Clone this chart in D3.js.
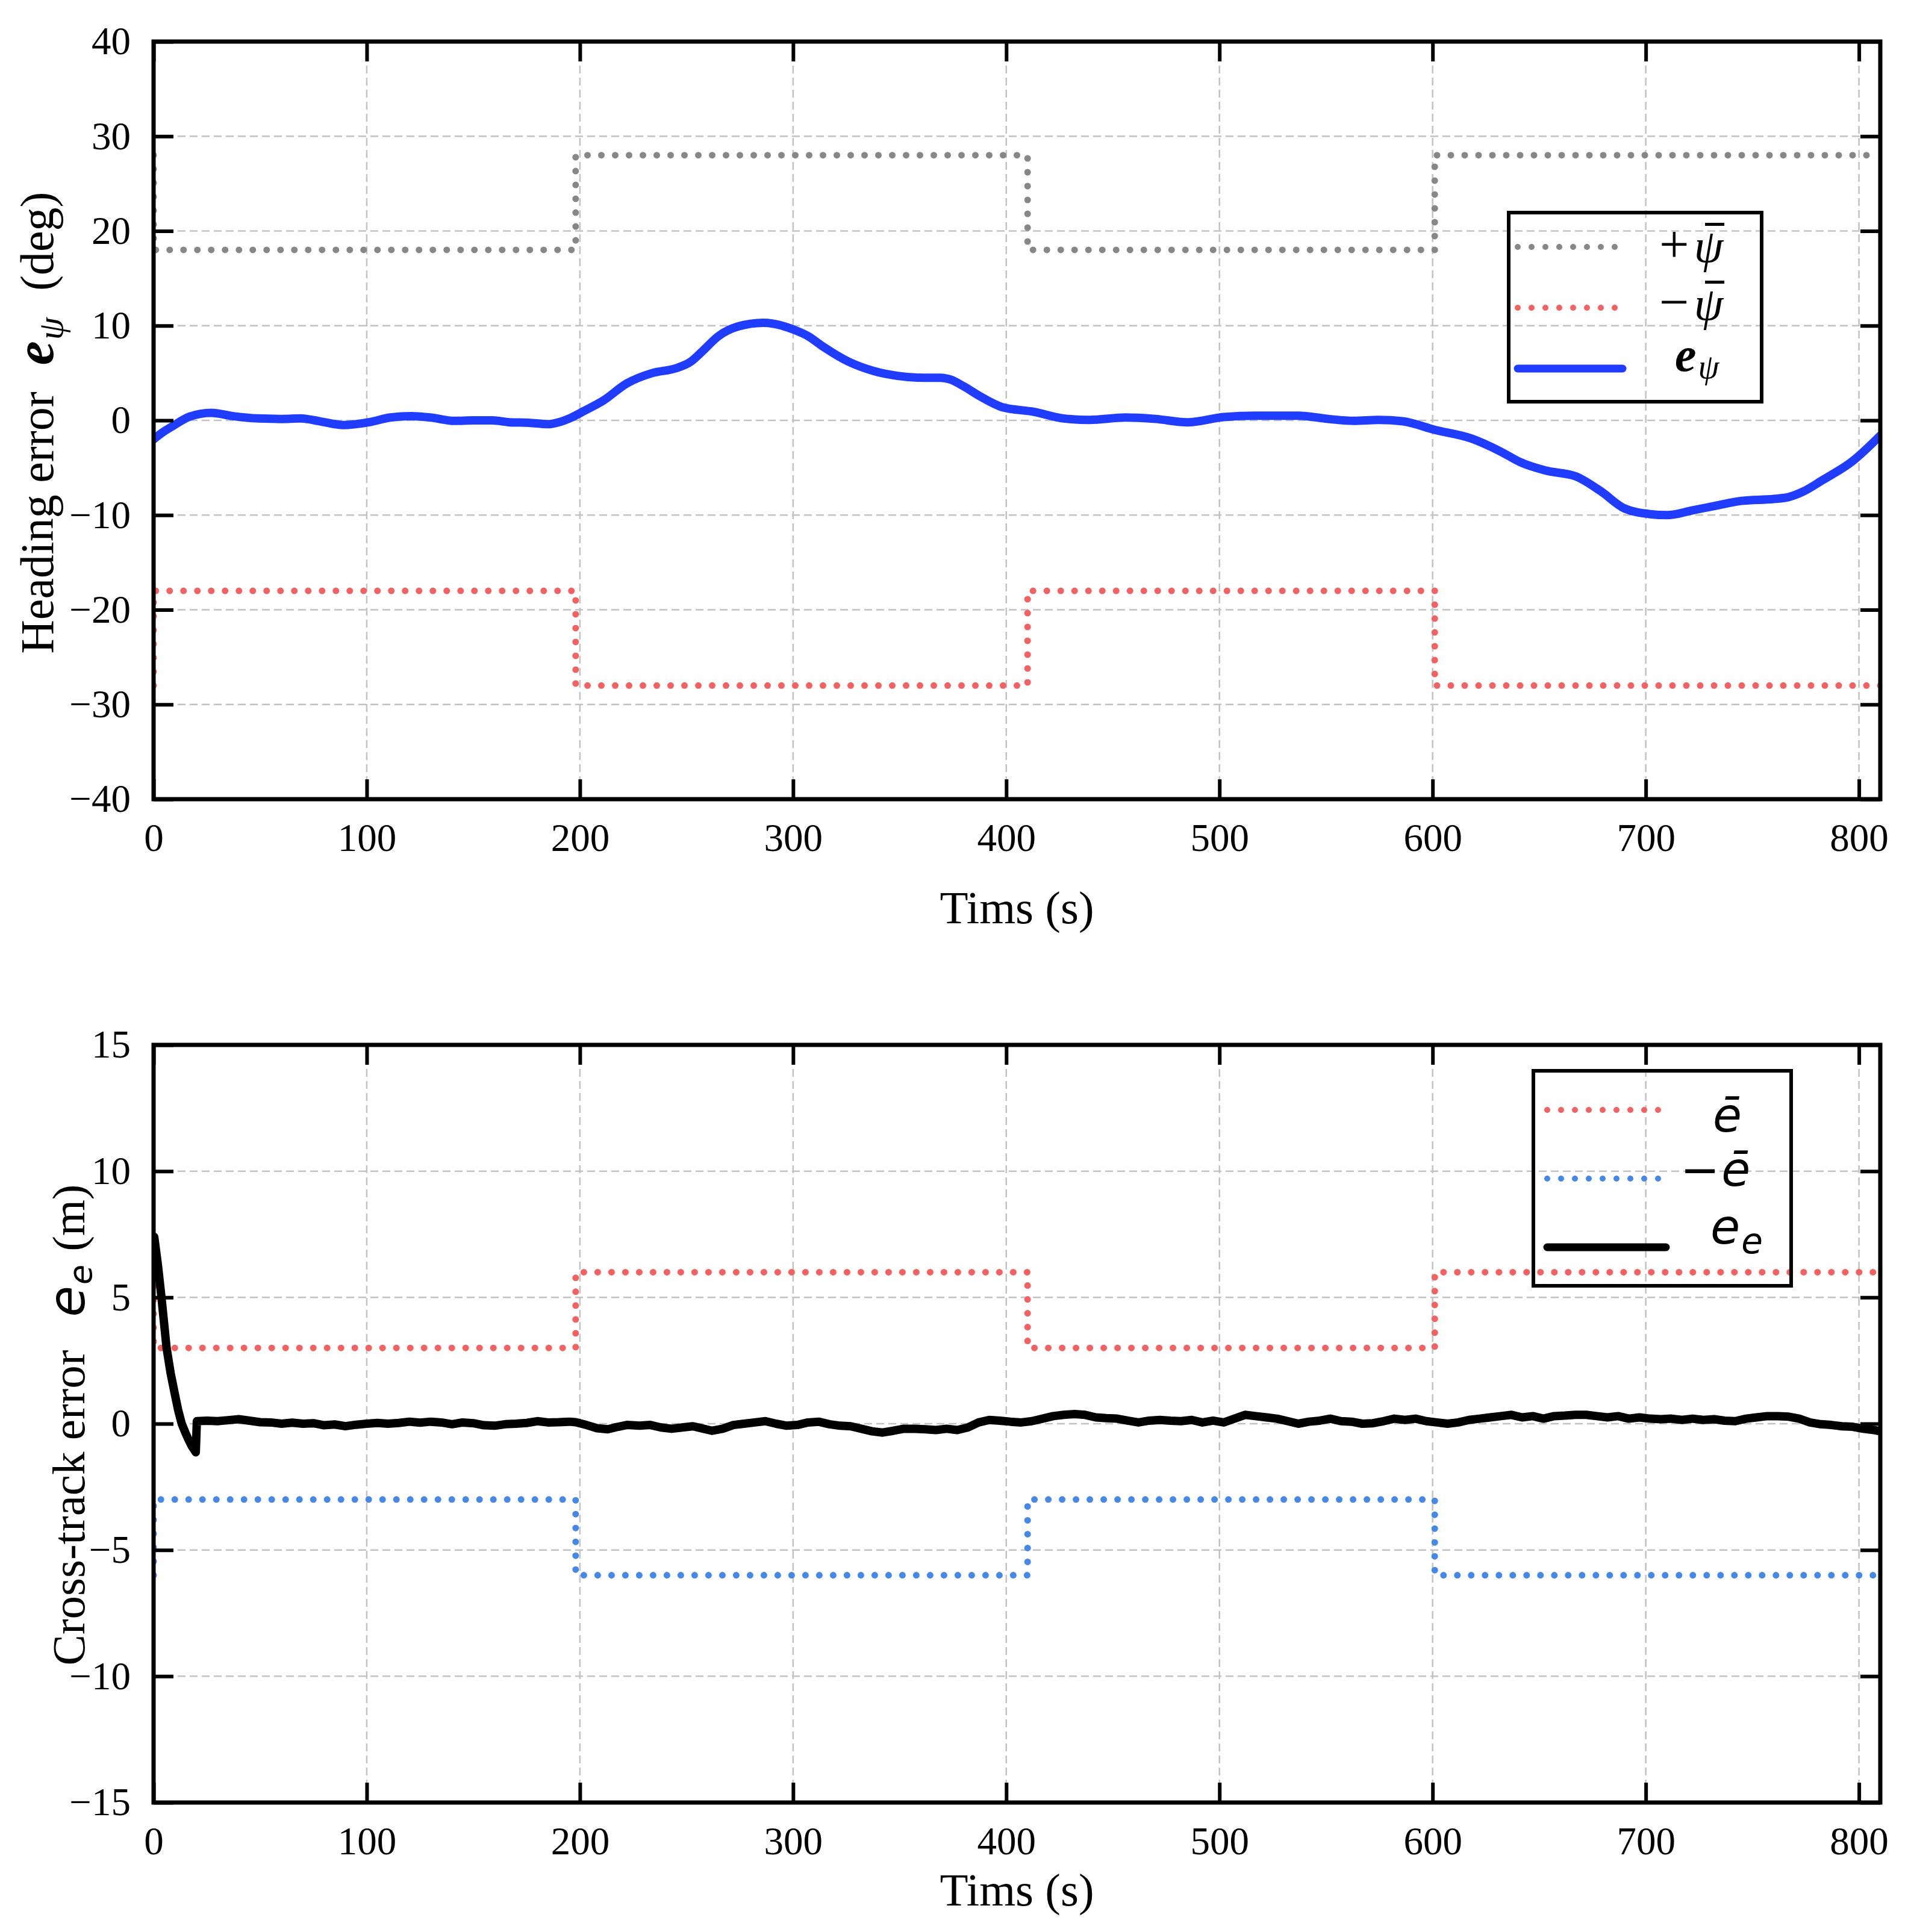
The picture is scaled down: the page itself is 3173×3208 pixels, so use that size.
<!DOCTYPE html>
<html>
<head>
<meta charset="utf-8">
<script src="https://cdn.jsdelivr.net/npm/d3@7"></script>
<style>
  body { margin: 0; background: #fff; }
  svg { display: block; }
</style>
</head>
<body>
<svg id="chart"></svg>
<script>
// ---- data ----
const xTicks = [0, 100, 200, 300, 400, 500, 600, 700, 800];
const psiTicks = [-40, -30, -20, -10, 0, 10, 20, 30, 40];
const eTicks = [-15, -10, -5, 0, 5, 10, 15];

// step bounds (same switching times for both panels)
const boundT = [0, 0, 198, 198, 410, 410, 601, 601, 810];
const psiBound = [28, 18, 18, 28, 28, 18, 18, 28, 28];
const eBound = [6, 3, 3, 6, 6, 3, 3, 6, 6];

// heading error e_psi (deg)
const psiT = [0, 4, 9, 17, 27, 37, 49, 60, 69, 78, 89, 101, 111, 121, 130, 141, 150, 159, 167, 176,
  185, 190, 196, 202, 211, 222, 234, 245, 252, 257, 265, 274, 286, 293, 300, 307, 314, 326, 338, 349,
  361, 369, 374, 380, 388, 398, 413, 427, 439, 456, 470, 485, 502, 517, 537, 551, 563, 575, 586, 601,
  618, 632, 641, 653, 667, 679, 690, 702, 710, 722, 733, 745, 760, 767, 774, 783, 797, 810];
const psiV = [-2.0, -1.3, -0.6, 0.4, 0.8, 0.45, 0.2, 0.15, 0.2, -0.1, -0.5, -0.2, 0.3, 0.45, 0.3, -0.05, 0.0, 0.0, -0.2, -0.25,
  -0.4, -0.2, 0.3, 1.0, 2.1, 3.9, 5.0, 5.5, 6.2, 7.2, 8.9, 9.9, 10.3, 10.1, 9.6, 8.9, 7.8, 6.2, 5.2, 4.7,
  4.5, 4.5, 4.3, 3.6, 2.5, 1.4, 0.9, 0.2, 0.05, 0.3, 0.15, -0.2, 0.35, 0.5, 0.5, 0.15, -0.05, 0.05, -0.1, -1.0,
  -1.9, -3.3, -4.4, -5.3, -5.9, -7.5, -9.3, -9.9, -10.0, -9.5, -9.0, -8.5, -8.3, -8.1, -7.5, -6.3, -4.3, -1.6];

// cross-track error e_e (m)
const eeT = [0.3, 2, 3.7, 6.1, 8, 9.9, 11.5, 13.2, 15, 16.5, 18, 19.8, 20.3, 25, 30, 35, 40, 45, 50, 55,
  60, 65, 70, 75, 80, 85, 90, 95, 100, 105, 110, 115, 120, 125, 130, 135, 140, 145, 150, 155,
  160, 165, 170, 175, 180, 185, 190, 195, 198, 203, 208, 213, 218, 222, 228, 233, 238, 243, 248, 253,
  258, 262, 267, 272, 277, 282, 287, 292, 297, 302, 307, 312, 317, 322, 327, 332, 337, 342, 347, 352,
  357, 362, 367, 372, 377, 382, 387, 392, 397, 402, 407, 412, 417, 422, 427, 432, 437, 442, 447, 452,
  457, 462, 467, 472, 477, 482, 487, 492, 497, 502, 507, 512, 517, 522, 527, 532, 537, 542, 547, 552,
  557, 562, 567, 572, 577, 582, 587, 592, 597, 602, 607, 612, 617, 622, 627, 632, 637, 642, 647, 652,
  657, 662, 667, 672, 677, 682, 687, 692, 697, 702, 707, 712, 717, 722, 727, 732, 737, 742, 747, 752,
  757, 762, 767, 772, 777, 782, 787, 792, 797, 802, 807, 810];
const eeV = [7.4, 6.3, 5.0, 3.0, 2.0, 1.2, 0.55, 0.0, -0.37, -0.65, -0.9, -1.13, 0.1, 0.12, 0.1, 0.14, 0.18, 0.12, 0.06, 0.05,
  0.0, 0.04, 0.0, 0.02, -0.06, -0.03, -0.1, -0.04, 0.0, 0.03, 0.0, 0.03, 0.08, 0.04, 0.08, 0.05, -0.02, 0.05, 0.02, -0.06,
  -0.08, -0.02, 0.0, 0.03, 0.1, 0.05, 0.06, 0.08, 0.06, -0.05, -0.18, -0.22, -0.12, -0.05, -0.08, -0.05, -0.15, -0.2, -0.15, -0.1,
  -0.2, -0.28, -0.2, -0.05, 0.0, 0.05, 0.1, 0.0, -0.08, -0.05, 0.05, 0.08, -0.02, -0.08, -0.1, -0.2, -0.3, -0.35, -0.28, -0.2,
  -0.2, -0.22, -0.25, -0.2, -0.25, -0.15, 0.05, 0.15, 0.12, 0.08, 0.05, 0.1, 0.2, 0.3, 0.35, 0.38, 0.35, 0.25, 0.22, 0.2,
  0.12, 0.05, 0.12, 0.15, 0.12, 0.1, 0.15, 0.05, 0.12, 0.05, 0.2, 0.35, 0.3, 0.25, 0.2, 0.1, 0.0, 0.08, 0.12, 0.2,
  0.1, 0.08, 0.0, 0.02, 0.1, 0.2, 0.15, 0.2, 0.1, 0.05, 0.0, 0.05, 0.15, 0.2, 0.25, 0.3, 0.35, 0.25, 0.3, 0.2,
  0.3, 0.32, 0.35, 0.35, 0.3, 0.25, 0.3, 0.2, 0.25, 0.2, 0.18, 0.2, 0.15, 0.2, 0.15, 0.18, 0.12, 0.1, 0.2, 0.25,
  0.3, 0.3, 0.28, 0.2, 0.05, -0.02, -0.05, -0.1, -0.12, -0.2, -0.25, -0.3];

// ---- layout ----
const W = 3173, H = 3208;
const L = 255, R = 3122;
const serif = "'Liberation Serif', 'Times New Roman', serif";
const sans = "'DejaVu Sans', sans-serif";
const dotted = "0 23";

const svg = d3.select("#chart")
  .attr("width", W).attr("height", H)
  .attr("viewBox", `0 0 ${W} ${H}`);
svg.append("rect").attr("width", W).attr("height", H).attr("fill", "#fff");

const x = d3.scaleLinear().domain([0, 810]).range([L, R]);

const panels = [
  {
    id: "psi", top: 69, bottom: 1327, domain: [-40, 40], ticks: psiTicks,
    series: [
      { t: boundT, v: psiBound, color: "#878787", width: 11, dash: dotted },
      { t: boundT, v: psiBound.map(d => -d), color: "#f26262", width: 11, dash: dotted },
      { t: psiT, v: psiV, color: "#203cff", width: 14, curve: d3.curveMonotoneX }
    ],
    xTitleY: 1533,
    legend: { x: 2505, y: 353, w: 420, h: 314, x0: 8, x1: 196, rows: [57, 158, 259] }
  },
  {
    id: "ee", top: 1735, bottom: 2993, domain: [-15, 15], ticks: eTicks,
    series: [
      { t: boundT, v: eBound, color: "#f26262", width: 11, dash: dotted },
      { t: boundT, v: eBound.map(d => -d), color: "#4688e6", width: 11, dash: dotted },
      { t: eeT, v: eeV, color: "#000", width: 14 }
    ],
    xTitleY: 3164,
    legend: { x: 2546, y: 1778, w: 428, h: 357, x0: 16, x1: 227, rows: [65, 179, 293] }
  }
];

panels.forEach(p => {
  const y = d3.scaleLinear().domain(p.domain).range([p.bottom, p.top]);
  const g = svg.append("g").attr("class", "panel-" + p.id);

  svg.append("clipPath").attr("id", "clip-" + p.id)
    .append("rect").attr("x", L).attr("y", p.top)
    .attr("width", R - L).attr("height", p.bottom - p.top);

  // grid
  const grid = g.append("g").attr("stroke", "#c2c2c2").attr("stroke-width", 2.5)
    .attr("stroke-dasharray", "13 7");
  grid.selectAll("line.vx").data(xTicks.filter(d => d > 0)).join("line")
    .attr("class", "vx")
    .attr("x1", d => x(d)).attr("x2", d => x(d))
    .attr("y1", p.top).attr("y2", p.bottom);
  grid.selectAll("line.hy").data(p.ticks.slice(1, -1)).join("line")
    .attr("class", "hy")
    .attr("x1", L).attr("x2", R)
    .attr("y1", d => y(d)).attr("y2", d => y(d));

  // series
  const plot = g.append("g").attr("clip-path", `url(#clip-${p.id})`);
  p.series.forEach(s => {
    const line = d3.line()
      .x(d => x(d[0])).y(d => y(d[1]))
      .curve(s.curve || d3.curveLinear);
    plot.append("path")
      .attr("d", line(s.t.map((t, i) => [t, s.v[i]])))
      .attr("fill", "none")
      .attr("stroke", s.color)
      .attr("stroke-width", s.width)
      .attr("stroke-dasharray", s.dash || null)
      .attr("stroke-linecap", "round")
      .attr("stroke-linejoin", "round");
  });

  // axes (inward ticks on all four sides)
  const styleAxis = (sel, labels) => {
    sel.select(".domain").remove();
    sel.selectAll(".tick line").attr("stroke", "#000").attr("stroke-width", 6);
    sel.attr("font-family", serif).attr("font-size", 65);
    if (!labels) sel.selectAll(".tick text").remove();
    sel.selectAll(".tick text").attr("fill", "#000");
  };
  g.append("g").attr("transform", `translate(0,${p.bottom})`)
    .call(d3.axisBottom(x).tickValues(xTicks).tickSizeInner(-33).tickSizeOuter(0).tickPadding(40))
    .call(s => styleAxis(s, true));
  g.append("g").attr("transform", `translate(0,${p.top})`)
    .call(d3.axisTop(x).tickValues(xTicks).tickSizeInner(-33).tickSizeOuter(0))
    .call(s => styleAxis(s, false));
  g.append("g").attr("transform", `translate(${L},0)`)
    .call(d3.axisLeft(y).tickValues(p.ticks).tickSizeInner(-33).tickSizeOuter(0).tickPadding(38))
    .call(s => styleAxis(s, true));
  g.append("g").attr("transform", `translate(${R},0)`)
    .call(d3.axisRight(y).tickValues(p.ticks).tickSizeInner(-33).tickSizeOuter(0))
    .call(s => styleAxis(s, false));

  g.append("rect")
    .attr("x", L).attr("y", p.top)
    .attr("width", R - L).attr("height", p.bottom - p.top)
    .attr("fill", "none").attr("stroke", "#000").attr("stroke-width", 7);

  // x title
  g.append("text")
    .attr("x", (L + R) / 2).attr("y", p.xTitleY)
    .attr("text-anchor", "middle")
    .attr("font-family", serif).attr("font-size", 77)
    .text("Tims (s)");

  // legend frame and sample lines
  const lg = p.legend;
  const leg = g.append("g").attr("transform", `translate(${lg.x},${lg.y})`);
  leg.append("rect").attr("width", lg.w).attr("height", lg.h)
    .attr("fill", "none").attr("stroke", "#000").attr("stroke-width", 6);
  p.series.forEach((s, i) => {
    leg.append("line")
      .attr("x1", lg.x0 + 7).attr("x2", lg.x1 - 7)
      .attr("y1", lg.rows[i]).attr("y2", lg.rows[i])
      .attr("stroke", s.color).attr("stroke-width", s.width - 1)
      .attr("stroke-dasharray", s.dash || null)
      .attr("stroke-linecap", "round");
  });
  p.legendGroup = leg;
});

// ---- legend labels ----
// sign followed by an italic psi with a bar drawn over it
function psiBarLabel(parent, px, py, sign) {
  const fs = 78;
  const t = parent.append("text").attr("x", px).attr("y", py)
    .attr("font-family", serif).attr("font-size", fs);
  t.append("tspan").attr("font-size", 88).text(sign);
  t.append("tspan").attr("dx", 8).attr("font-style", "italic").text("ψ");
  const node = t.node();
  const s = node.getStartPositionOfChar(1).x;
  const e = node.getEndPositionOfChar(1).x;
  parent.append("line")
    .attr("x1", s + 0.38 * (e - s)).attr("x2", e + 2)
    .attr("y1", py - 0.8 * fs).attr("y2", py - 0.8 * fs)
    .attr("stroke", "#000").attr("stroke-width", 5);
}
const legTop = panels[0].legendGroup;
psiBarLabel(legTop, 250, 57 + 25, "+");
psiBarLabel(legTop, 250, 158 + 20, "−");
const t3 = legTop.append("text").attr("x", 276).attr("y", 259 + 4)
  .attr("font-family", serif).attr("font-size", 80);
t3.append("tspan").attr("font-style", "italic").attr("font-weight", "bold").text("e");
t3.append("tspan").attr("dx", 3).attr("font-style", "italic").attr("font-size", 56).attr("dy", 12).text("ψ");

const legBot = panels[1].legendGroup;
legBot.append("text").attr("x", 298).attr("y", 65 + 36)
  .attr("font-family", sans).attr("font-style", "italic").attr("font-size", 78)
  .text("ē");
const b2 = legBot.append("text").attr("x", 244).attr("y", 179 + 12)
  .attr("font-family", sans).attr("font-size", 78);
b2.append("tspan").text("−");
b2.append("tspan").attr("dx", 3).attr("font-style", "italic").text("ē");
const b3 = legBot.append("text").attr("x", 294).attr("y", 293 - 6)
  .attr("font-family", sans).attr("font-style", "italic").attr("font-size", 80);
b3.append("tspan").text("e");
b3.append("tspan").attr("dx", 2).attr("font-size", 58).attr("dy", 16).text("e");

// ---- y titles ----
const yt1 = svg.append("text")
  .attr("transform", "translate(88,702) rotate(-90)")
  .attr("text-anchor", "middle")
  .attr("font-family", serif).attr("font-size", 78);
yt1.append("tspan").text("Heading error");
yt1.append("tspan").attr("dx", 44).attr("font-style", "italic").attr("font-weight", "bold")
  .attr("font-size", 90).text("e");
yt1.append("tspan").attr("dx", 2).attr("font-style", "italic").attr("font-size", 60).attr("dy", 16).text("ψ");
yt1.append("tspan").attr("dx", 44).attr("dy", -16).text("(deg)");

const yt2 = svg.append("text")
  .attr("transform", "translate(140,2366) rotate(-90)")
  .attr("text-anchor", "middle")
  .attr("font-family", serif).attr("font-size", 77);
yt2.append("tspan").text("Cross-track error");
yt2.append("tspan").attr("dx", 55).attr("font-family", sans).attr("font-style", "italic")
  .attr("font-size", 84).text("e");
yt2.append("tspan").attr("dx", 2).attr("font-family", sans).attr("font-style", "italic")
  .attr("font-size", 54).attr("dy", 12).text("e");
yt2.append("tspan").attr("dx", 22).attr("dy", -12).text("(m)");
</script>
</body>
</html>
